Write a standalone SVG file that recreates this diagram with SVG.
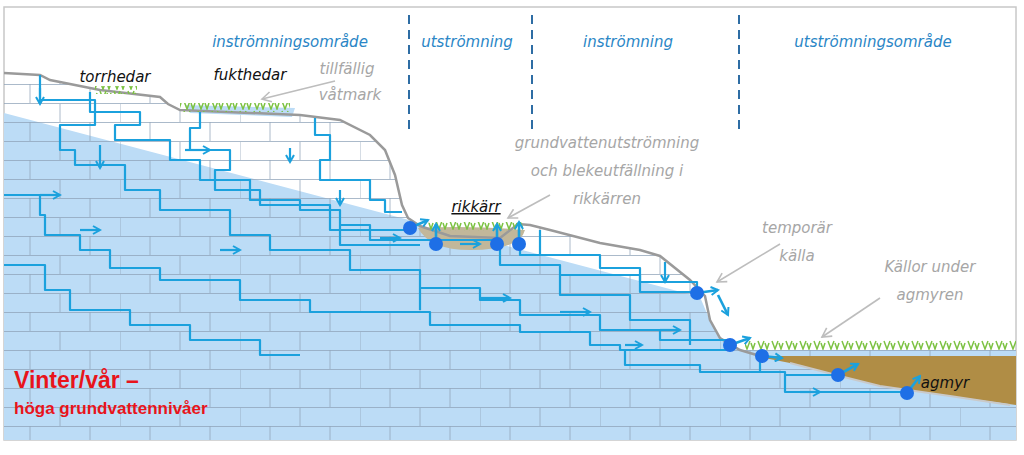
<svg xmlns="http://www.w3.org/2000/svg" width="1024" height="455" viewBox="0 0 1024 455">
<style>
.hdr{font-family:"DejaVu Sans",sans-serif;font-style:italic;font-size:15px;fill:#2a86c6;text-anchor:middle}
.blk{font-family:"DejaVu Sans",sans-serif;font-style:italic;font-size:15px;fill:#111;text-anchor:middle}
.gry{font-family:"DejaVu Sans",sans-serif;font-style:italic;font-size:15px;fill:#a6a6a6;text-anchor:middle}
.flow{fill:none;stroke:#1ba1dd;stroke-width:2.2;stroke-linejoin:round}
.arr{fill:none;stroke:#1ba1dd;stroke-width:2.2;marker-end:url(#chev)}
.sarr{fill:none;stroke:#1ba1dd;stroke-width:2.6;marker-end:url(#chev)}
.garr{stroke:#bdbdbd;stroke-width:1.6;fill:none;marker-end:url(#garw)}
.dot{fill:#1e6fe6}
.dash{stroke:#2e6da4;stroke-width:2;stroke-dasharray:9,6}
</style>
<defs>
<marker id="chev" markerWidth="10" markerHeight="10" refX="8" refY="5" orient="auto" markerUnits="userSpaceOnUse"><path d="M1,1 L8,5 L1,9" fill="none" stroke="#1ba1dd" stroke-width="2"/></marker>
<marker id="garw" markerWidth="12" markerHeight="12" refX="10" refY="6" orient="auto" markerUnits="userSpaceOnUse"><path d="M1,1 L10,6 L1,11" fill="none" stroke="#bdbdbd" stroke-width="1.6"/></marker>
<pattern id="brick" width="120" height="38" patternUnits="userSpaceOnUse" y="84">
<path d="M0,0.5H120M0,19.5H120M30,0V19M90,0V19M0,20V38M60,20V38" stroke="#8ea3b8" stroke-opacity="0.75" stroke-width="1" fill="none"/>
</pattern>
<pattern id="grass" width="14" height="10" patternUnits="userSpaceOnUse">
<path d="M2,1 L5,9 L8,1 M9,3 L11,9 L13,3" stroke="#7cc242" stroke-width="1.5" fill="none"/>
</pattern>
<clipPath id="ground"><path d="M4,73 L40,75 L50,80 L100,90 L160,97 L168,104 L180,110 L300,115 L340,120 L370,135 L385,150 L395,175 L402,205 L408,218 L420,226 L450,236 L500,238 L518,224 L530,225 L550,230 L600,243 L640,250 L660,256 L690,280 L705,296 L710,320 L720,338 L740,350 L1016,350 L1016,440 L4,440 Z"/></clipPath>
</defs>
<rect x="0" y="0" width="1024" height="455" fill="#fff"/>
<rect x="4" y="7" width="1012" height="433" fill="none" stroke="#c8c8c8" stroke-width="1.5"/>
<g id="scene">
<g clip-path="url(#ground)">
<path d="M4,113 L700,297 L712,325 L725,342 L740,348 L1016,348 L1016,440 L4,440 Z" fill="#bcdcf6"/>
<rect x="0" y="70" width="1024" height="380" fill="url(#brick)"/>
</g>
<path d="M755,356 L1016,356 L1016,405 L950,396 L880,386 L840,376 L790,363 Z" fill="#b08d45"/>
<path d="M790,363 L840,376 L880,386 L950,396 L1010,405" fill="none" stroke="#c9c9c9" stroke-width="2"/>
<path d="M418,228 Q470,225 525,230 Q520,250 470,250 Q430,250 418,228 Z" fill="#c2b79a"/>
<path d="M185,105 L295,108 L292,117 L190,113 Z" fill="#bcdcf6"/>
<path d="M4,73 L40,75 L50,80 L100,90 L160,97 L168,104 L180,110 L300,115 L340,120 L370,135 L385,150 L395,175 L402,205 L408,218 L420,226 L450,236 L500,238 L518,224 L530,225 L550,230 L600,243 L640,250 L660,256 L690,280 L705,296 L710,320 L720,338 L740,350 L760,356" fill="none" stroke="#9a9a9a" stroke-width="2.5"/>
<rect x="95" y="86" width="42" height="8" fill="url(#grass)"/>
<rect x="180" y="103" width="110" height="9" fill="url(#grass)"/>
<rect x="428" y="222" width="95" height="9" fill="url(#grass)"/>
<rect x="745" y="340" width="271" height="10" fill="url(#grass)"/>
</g>
<g id="connectors">
<path class="flow" d="M40,75 V100 H95 V125 H60 V150 H75 V165 H125 V190 H160 V210 H230 V235 H270 V250 H350 V270 H420 V288 H480 V300 H520 V315 H600 V330 H660 V340 H730"/>
<path class="flow" d="M90,92 V112 H140 V125 H115 V140 H170 V160 H200 V180 H250 V200 H300 V210 H340 V225 H370 V240 H436 H500 V265 H560 V275 H640 V292 H697"/>
<path class="flow" d="M200,112 V128 H190 V150 H230 V170 H215 V190 H260 V205 H330 V230 H410"/>
<path class="flow" d="M315,118 V135 H330 V160 H320 V180 H370 V200 H385 V212 H402"/>
<path class="flow" d="M4,195 H40 V215 H45 V235 H80 V250 H110 V268 H160 V280 H240 V300 H310 V312 H430 V325 H520 V332 H590 V345 H620 V350 H730"/>
<path class="flow" d="M4,265 H45 V290 H70 V310 H130 V325 H190 V340 H260 V355 H300"/>
<path class="flow" d="M520,245 V255 H600 V268 H640 V282 H697 V293"/>
<path class="flow" d="M540,230 V255 M560,275 V295 H630 V320 H690 V345 M625,350 V365 H700 V372 H785 V392 H907 M700,372 H760 V356 M785,375 H838"/>
<path class="flow" d="M420,288 V310 M340,225 V245 H420"/>
<path class="arr" d="M40,88 V104"/><path class="arr" d="M100,145 V168"/><path class="arr" d="M80,230 H100"/><path class="arr" d="M185,150 H210"/><path class="arr" d="M40,195 H60"/>
<path class="arr" d="M290,148 V162"/><path class="arr" d="M340,190 V205"/><path class="arr" d="M380,238 H400"/><path class="arr" d="M460,244 H480"/><path class="arr" d="M480,298 H510"/>
<path class="arr" d="M560,312 H590"/><path class="arr" d="M220,250 H240"/><path class="arr" d="M665,262 V282"/><path class="arr" d="M625,345 H642"/><path class="arr" d="M800,392 H820"/><path class="arr" d="M660,330 H680"/>
<path class="sarr" d="M697,293 L718,290"/><path class="sarr" d="M718,295 L728,315"/><path class="sarr" d="M730,345 L750,338"/><path class="sarr" d="M762,356 L782,358"/><path class="sarr" d="M838,375 L858,364"/><path class="sarr" d="M907,393 L920,376"/>
<path class="sarr" d="M410,228 L428,220"/><path class="sarr" d="M436,244 V224"/><path class="sarr" d="M497,244 V224"/><path class="sarr" d="M519,244 V222"/>
<circle class="dot" cx="410" cy="228" r="7"/><circle class="dot" cx="436" cy="244" r="7"/><circle class="dot" cx="497" cy="244" r="7"/><circle class="dot" cx="519" cy="244" r="7"/>
<circle class="dot" cx="697" cy="293" r="7"/><circle class="dot" cx="730" cy="345" r="7"/><circle class="dot" cx="762" cy="356" r="7"/><circle class="dot" cx="838" cy="375" r="7"/><circle class="dot" cx="907" cy="393" r="7"/>
<line class="garr" x1="335" y1="81" x2="262" y2="99"/>
<line class="garr" x1="550" y1="195" x2="508" y2="218"/>
<line class="garr" x1="780" y1="244" x2="717" y2="282"/>
<line class="garr" x1="880" y1="298" x2="822" y2="337"/>
<line class="dash" x1="409" y1="15" x2="409" y2="135"/>
<line class="dash" x1="532" y1="15" x2="532" y2="135"/>
<line class="dash" x1="739" y1="15" x2="739" y2="135"/>
</g>
<g id="labels">
<text class="hdr" x="290" y="47">inströmningsområde</text>
<text class="hdr" x="467" y="47">utströmning</text>
<text class="hdr" x="628" y="47">inströmning</text>
<text class="hdr" x="873" y="47">utströmningsområde</text>
<text class="blk" x="115" y="82">torrhedar</text>
<text class="blk" x="250" y="80">fukthedar</text>
<text class="gry" x="347" y="74">tillfällig</text>
<text class="gry" x="350" y="100">våtmark</text>
<text class="gry" x="607" y="148">grundvattenutströmning</text>
<text class="gry" x="607" y="176">och blekeutfällning i</text>
<text class="gry" x="607" y="204">rikkärren</text>
<text class="blk" x="476" y="212" text-decoration="underline">rikkärr</text>
<text class="gry" x="797" y="233">temporär</text>
<text class="gry" x="797" y="261">källa</text>
<text class="gry" x="930" y="272">Källor under</text>
<text class="gry" x="930" y="300">agmyren</text>
<text class="blk" x="945" y="388">agmyr</text>
<text x="14" y="388" font-family="Liberation Sans,sans-serif" font-size="23" font-weight="bold" fill="#e8141b">Vinter/vår –</text>
<text x="14" y="414" font-family="Liberation Sans,sans-serif" font-size="17" font-weight="bold" fill="#e8141b">höga grundvattennivåer</text>
</g>
</svg>
